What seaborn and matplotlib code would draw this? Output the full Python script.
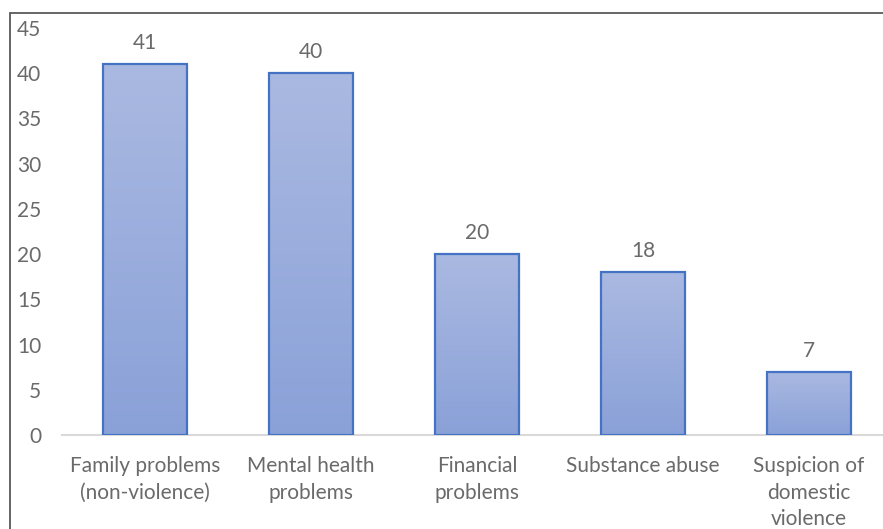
import numpy as np
import pandas as pd
import seaborn as sns
import matplotlib.pyplot as plt
from matplotlib.colors import LinearSegmentedColormap
from matplotlib.patches import Rectangle

# data
categories = ["Family problems\n(non-violence)", "Mental health\nproblems",
              "Financial\nproblems", "Substance abuse",
              "Suspicion of\ndomestic\nviolence"]
counts = [41, 40, 20, 18, 7]

df = pd.DataFrame({"category": categories, "count": counts})

sns.set_style("white")
plt.rcParams["font.family"] = ["Lato", "DejaVu Sans"]
text_gray = "#6a6a6a"
fs = 15

fig = plt.figure(figsize=(8.83, 5.29), dpi=100)
ax = fig.add_axes([62 / 883, 1 - 435 / 529, 1 - 62 / 883, (435 - 28) / 529])

sns.barplot(data=df, x="category", y="count", color="#9aaedd",
            width=0.506, edgecolor="#4472C4", linewidth=1.6, ax=ax)

# vertical gradient inside each bar (light top, darker bottom)
grad = LinearSegmentedColormap.from_list("g", ["#8aa1d8", "#aab9e1"])
gimg = np.linspace(0, 1, 256).reshape(-1, 1)
for p in ax.patches:
    x0, y0 = p.get_x(), p.get_y()
    w, h = p.get_width(), p.get_height()
    p.set_facecolor("none")
    p.set_zorder(3)
    im = ax.imshow(gimg, cmap=grad, aspect="auto", origin="lower",
                   extent=(x0, x0 + w, y0, y0 + h), zorder=2)
    im.set_clip_path(p)

ax.bar_label(ax.containers[0], labels=[str(v) for v in counts],
             padding=8, fontsize=fs, color=text_gray)

ax.set_xlim(-0.5, 4.446)
ax.set_ylim(0, 45)
ax.set_yticks(range(0, 46, 5))
ax.set_xlabel("")
ax.set_ylabel("")
ax.tick_params(axis="y", length=0, pad=15, labelsize=fs, labelcolor=text_gray)
ax.tick_params(axis="x", length=0, pad=15, labelsize=fs, labelcolor=text_gray)
for t in ax.get_xticklabels():
    t.set_linespacing(1.42)
for s in ["left", "right", "top"]:
    ax.spines[s].set_visible(False)
ax.spines["bottom"].set_color("#d9d9d9")
ax.spines["bottom"].set_linewidth(1.5)

# outer chart border (only top and left visible in the crop)
fig.add_artist(Rectangle((9.5 / 883, -0.1), 1.2, 1.1 - 13.5 / 529,
                         transform=fig.transFigure, fill=False,
                         edgecolor="#595959", linewidth=1.3))

fig.savefig("out.png", dpi=100)
